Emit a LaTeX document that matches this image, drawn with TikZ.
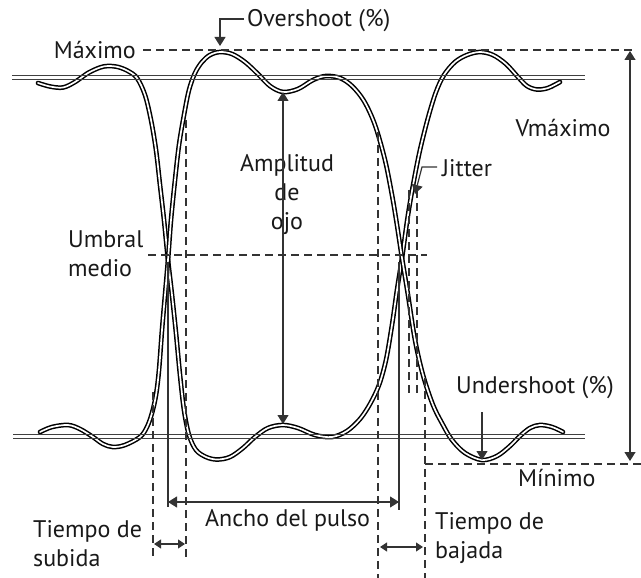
\documentclass[tikz,border=0pt]{standalone}
\usepackage{fontspec}
\setmainfont{PT Sans}
\usetikzlibrary{arrows.meta}
\tikzset{
  trace/.style={draw=black, line width=1.5pt, double=white, double distance=1.7pt, line join=round, line cap=round},
  refline/.style={draw=black!75, line width=1.2pt},
  dashline/.style={draw=black!80, line width=1.4pt, dash pattern=on 8pt off 5pt},
  thinline/.style={draw=black!80, line width=1.2pt},
  both/.style={thinline, arrows={Triangle[length=9pt,width=11pt]-Triangle[length=9pt,width=11pt]}},
  toend/.style={thinline, arrows={-Triangle[length=9pt,width=11pt]}},
  smallboth/.style={thinline, arrows={Triangle[length=7pt,width=9pt]-Triangle[length=7pt,width=9pt]}},
  lbl/.style={inner sep=0pt, font=\fontsize{24}{29}\selectfont, text=black!90},
}
\begin{document}
\begin{tikzpicture}[x=1pt,y=-1pt]
\useasboundingbox (0,0) rectangle (641,578);
\fill[white] (0,0) rectangle (641,578);

% traces
\draw[trace] plot[smooth, tension=0.55] coordinates {
(38,83) (50,86.5) (63,87.5) (75,82) (88,73) (100,67.5) (108,66) (118,67) (128,71) (137,78) (145,95) (151,120) (156,150) (160,185) (164,220) (168,260) (172,295) (176,333) (180,375) (184,410) (189,435) (196,450) (206,457) (217,459.5) (230,457) (243,448) (255,437) (268,428) (283,425) (298,428) (315,435) (332,437) (347,431) (360,419) (370,404) (379,385) (386,360) (392,325) (397,290) (402,258) (408,215) (414,180) (420,150) (428,118) (436,92) (444,75) (455,62) (467,55) (480,52) (493,55) (506,64) (518,77) (527,86) (537,89.5) (548,88) (560,82)};
\draw[trace] plot[smooth, tension=0.55] coordinates {
(40,432) (52,427) (68,425) (80,429) (93,437) (103,444) (113,447) (125,445) (140,437) (147,427) (152,413) (156,395) (159,370) (162,330) (165,295) (168,260) (171,220) (175,180) (179,145) (184,115) (189,90) (195,73) (202,62) (210,55) (220,52) (232,54) (245,62) (258,74) (270,86) (283,92) (298,89) (313,80) (326,76) (340,78) (352,86) (364,101) (375,125) (385,160) (392,195) (397,225) (402,258) (408,295) (415,340) (423,375) (433,405) (443,425) (452,440) (465,453) (482,460) (497,456) (510,446) (520,436) (530,428) (540,425) (552,427) (563,432)};

% reference double lines
\draw[refline] (12,75.5) -- (585,75.5);
\draw[refline] (12,79.5) -- (585,79.5);
\draw[refline] (13,434.5) -- (585,434.5);
\draw[refline] (13,438.5) -- (585,438.5);

% coordinates
\coordinate (maxL) at (143,50);
\coordinate (maxR) at (633,50);
\coordinate (minL) at (425,464);
\coordinate (minR) at (641,464);
\coordinate (umbL) at (148,255);
\coordinate (umbR) at (427,255);

% dashed lines
\draw[dashline] (maxL) -- (maxR);
\draw[dashline] (minL) -- (minR);
\draw[dashline] (umbL) -- (umbR);
\draw[dashline] (153,392) -- (153,560);
\draw[dashline] (186,120) -- (186,560);
\draw[dashline] (378,132) -- (378,578);
\draw[dashline] (425,378) -- (425,578);
\draw[dashline] (409,190) -- (409,397);
\draw[dashline] (417,190) -- (417,397);

% labels
\node[lbl, anchor=west] (over) at (247,21) {Overshoot (\%)};
\node[lbl, anchor=east] (maxt) at (136,50) {Máximo};
\node[lbl] (vmax) at (563,128) {Vmáximo};
\node[lbl, align=center] (amp) at (287,195) {Amplitud\\de\\ojo};
\node[lbl, anchor=west] (jit) at (442,168) {Jitter};
\node[lbl, anchor=west, align=left] (umb) at (68,254) {Umbral\\medio};
\node[lbl, anchor=west] (under) at (456,388) {Undershoot (\%)};
\node[lbl, anchor=west] (mint) at (518,478) {Mínimo};
\node[lbl, anchor=west] (ancho) at (205,520) {Ancho del pulso};
\node[lbl, anchor=west, align=left] (sub) at (33,544) {Tiempo de\\subida};
\node[lbl, anchor=west, align=left] (baj) at (435,538) {Tiempo de\\bajada};

% arrows
\coordinate (ovC) at (220,19);
\coordinate (ovT) at (220,46);
\draw[toend] (244,19) -- (ovC) -- (ovT);
\coordinate (jitC) at (422,167);
\coordinate (jitT) at (415,194);
\draw[toend] (437,167) -- (jitC) -- (jitT);
\coordinate (ampT) at (283,92);
\coordinate (ampB) at (283,424);
\draw[both] (ampT) -- (ampB);
\coordinate (vT) at (630,51);
\coordinate (vB) at (630,461);
\draw[both] (vT) -- (vB);
\coordinate (undS) at (482,412);
\coordinate (undT) at (482,460);
\draw[toend] (undS) -- (undT);
\coordinate (ancL) at (168,502);
\coordinate (ancR) at (399,502);
\draw[thinline] (168,262) -- (168,507);
\draw[thinline] (399,262) -- (399,510);
\draw[both] (ancL) -- (ancR);
\coordinate (subL) at (154,544);
\coordinate (subR) at (185,544);
\draw[smallboth] (subL) -- (subR);
\coordinate (bajL) at (380,547);
\coordinate (bajR) at (423,547);
\draw[smallboth] (bajL) -- (bajR);
\end{tikzpicture}
\end{document}
